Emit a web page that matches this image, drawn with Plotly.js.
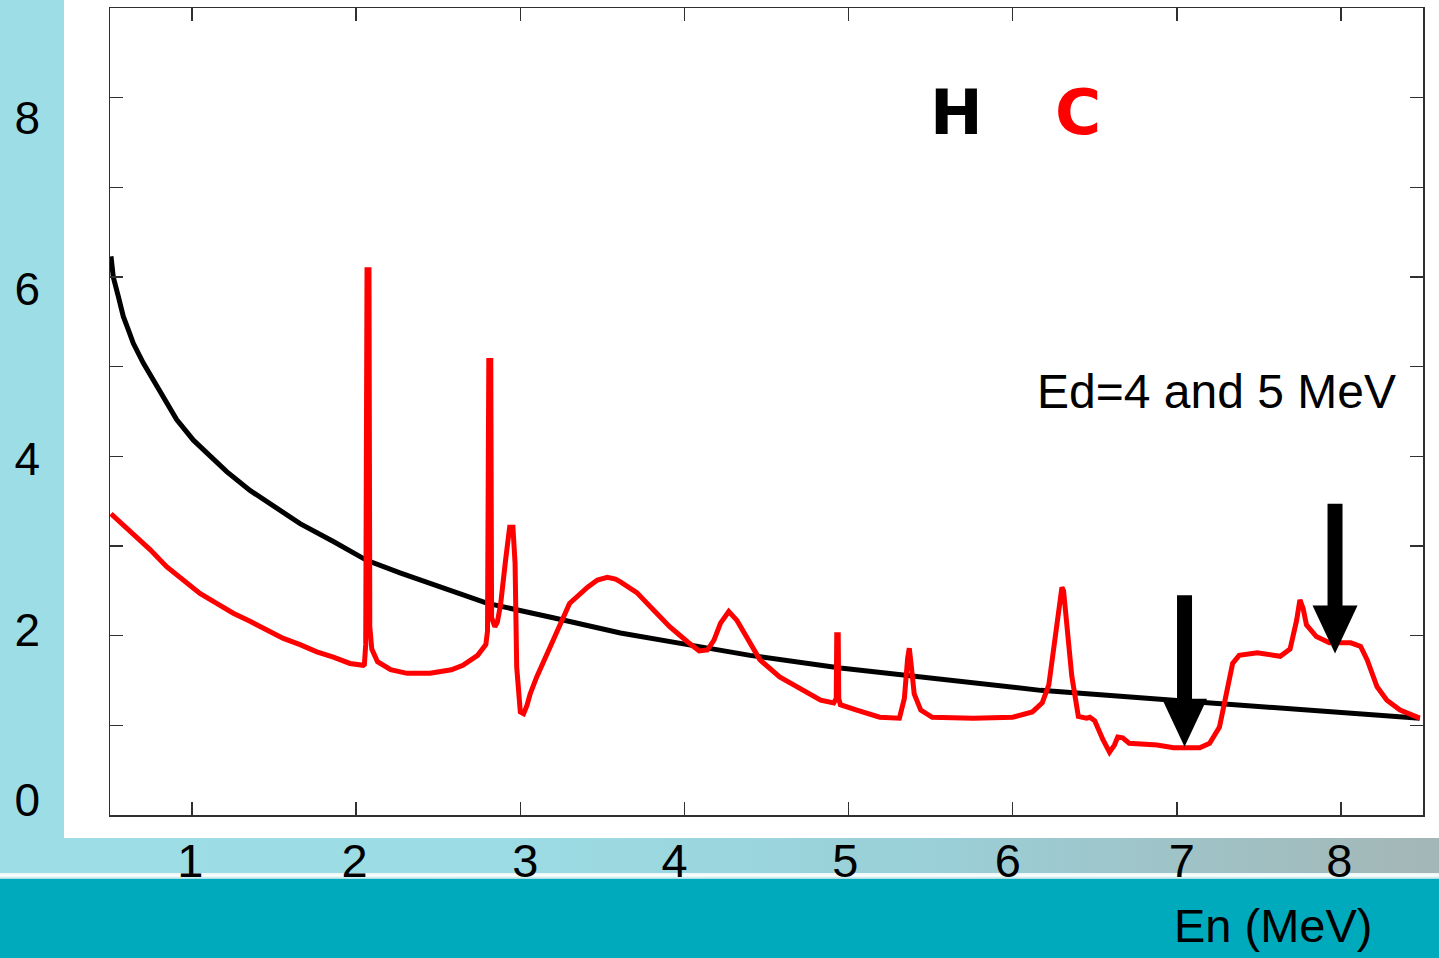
<!DOCTYPE html>
<html>
<head>
<meta charset="utf-8">
<script src="https://cdn.plot.ly/plotly-3.0.1.min.js"></script>
<style>
  html, body { margin:0; padding:0; }
  #stage { position:relative; width:1439px; height:958px; overflow:hidden; background:#9DDEE6; }
  #white { position:absolute; left:64px; top:0; width:1375px; height:838px; background:#ffffff; }
  #strip { position:absolute; left:0; top:838px; width:1439px; height:35px;
           background:linear-gradient(to right, #9DDEE6 0%, #9CDCE4 35%, #9ACFD7 65%, #A4B6B6 100%); }
  #line { position:absolute; left:0; top:873px; width:1439px; height:6px;
          background:linear-gradient(to bottom, #E8F6F8 0%, #ffffff 50%, #9ED9E0 100%); }
  #teal { position:absolute; left:0; top:879px; width:1439px; height:79px; background:#00AABD; }
  #chart { position:absolute; left:0; top:0; width:1439px; height:958px; }
</style>
</head>
<body>
<div id="stage">
  <div id="white"></div>
  <div id="strip"></div>
  <div id="line"></div>
  <div id="teal"></div>
  <div id="chart"></div>
</div>
<script>
// ---- data ----
const hX = [0.506, 0.52, 0.551, 0.581, 0.612, 0.642, 0.703, 0.764, 0.805, 0.866, 0.906, 1.008, 1.109, 1.211, 1.353, 1.495, 1.658, 1.861, 2.064, 2.267,
            2.45, 2.80, 3.20, 3.61, 4.02, 4.40, 4.95, 5.56, 6.17, 6.98, 7.79, 8.48];
const hY = [6.23, 6.00, 5.78, 5.56, 5.41, 5.26, 5.04, 4.85, 4.70, 4.52, 4.41, 4.18, 4.00, 3.83, 3.62, 3.44, 3.25, 3.05, 2.84, 2.70,
            2.58, 2.36, 2.20, 2.03, 1.90, 1.78, 1.64, 1.51, 1.39, 1.28, 1.17, 1.08];

const cX = [0.506, 0.561, 0.642, 0.744, 0.845, 0.947, 1.048, 1.15, 1.251, 1.353, 1.455, 1.556, 1.658, 1.76, 1.861, 1.962, 2.043, 2.05, 2.058, 2.062,
            2.066, 2.078, 2.083, 2.095, 2.13, 2.21, 2.31,
            2.45, 2.51, 2.58, 2.65, 2.74, 2.79, 2.80, 2.808, 2.820, 2.825, 2.845, 2.86, 2.88, 2.91, 2.935, 2.955, 2.968, 2.978, 2.99, 3.00,
            3.02, 3.04, 3.06, 3.10, 3.20, 3.30, 3.41, 3.47, 3.53, 3.58, 3.61, 3.71, 3.81, 3.91, 4.02, 4.09, 4.14, 4.18, 4.22, 4.27,
            4.32, 4.40, 4.46, 4.58, 4.70, 4.83, 4.91, 4.925, 4.928, 4.937, 4.94, 4.95, 5.05, 5.19, 5.31, 5.34, 5.36, 5.37, 5.38, 5.40,
            5.44, 5.51, 5.76, 6.00, 6.12, 6.18, 6.22, 6.25, 6.28, 6.30, 6.31, 6.33, 6.36, 6.40, 6.45, 6.47, 6.50, 6.55, 6.59, 6.62,
            6.64, 6.67, 6.71, 6.88, 6.98, 7.14, 7.20, 7.26, 7.30, 7.34, 7.38, 7.49, 7.63, 7.69, 7.73, 7.75, 7.77, 7.79, 7.85, 7.93,
            8.06, 8.12, 8.16, 8.22, 8.28, 8.36, 8.48];
const cY = [3.36, 3.27, 3.14, 2.96, 2.77, 2.62, 2.47, 2.36, 2.25, 2.16, 2.06, 1.97, 1.90, 1.82, 1.76, 1.69, 1.67, 1.68, 1.90, 4.15,
            6.08, 6.08, 2.10, 1.85, 1.71, 1.62, 1.58,
            1.58, 1.60, 1.62, 1.67, 1.78, 1.90, 2.05, 5.07, 5.07, 2.20, 2.10, 2.15, 2.35, 2.84, 3.21, 3.21, 2.81, 1.65, 1.25, 1.15,
            1.13, 1.22, 1.35, 1.54, 1.95, 2.36, 2.54, 2.62, 2.65, 2.63, 2.60, 2.48, 2.29, 2.10, 1.93, 1.83, 1.84, 1.95, 2.14, 2.27,
            2.17, 1.92, 1.73, 1.54, 1.42, 1.28, 1.25, 1.30, 2.01, 2.01, 1.30, 1.23, 1.17, 1.09, 1.08, 1.30, 1.75, 1.86, 1.70, 1.35,
            1.17, 1.09, 1.08, 1.09, 1.15, 1.25, 1.45, 1.85, 2.35, 2.54, 2.50, 2.06, 1.55, 1.10, 1.08, 1.09, 1.05, 0.84, 0.70, 0.78,
            0.87, 0.86, 0.80, 0.78, 0.75, 0.75, 0.80, 0.98, 1.32, 1.69, 1.78, 1.81, 1.77, 1.85, 2.17, 2.40, 2.30, 2.12, 1.99, 1.92,
            1.92, 1.88, 1.73, 1.43, 1.28, 1.17, 1.08];

const xTickLabels = ['1', '2', '3', '4', '5', '6', '7', '8'];
const xLabelPos   = [0.99, 1.99, 3.03, 3.94, 4.98, 5.97, 7.03, 7.99];
const yTickLabels = ['0', '2', '4', '6', '8'];
const yLabelVals  = [0, 2, 4, 6, 8];

const arrowX     = [7.047, 7.964];
const arrowTipY  = [0.76, 1.80];
const arrowTailY = [2.45, 3.47];

// ---- geometry / style ----
const xRange = [0.5, 8.5], yRange = [0, 9];
const plotW = 1313, plotH = 807;
const pxPerX = plotW / (xRange[1] - xRange[0]);
const pxPerY = plotH / (yRange[1] - yRange[0]);
const shaftW = 15, headW = 45, headL = 48;
const axisCol = '#303030';
const font = 'Liberation Sans, Arial, Helvetica, sans-serif';

const shapes = [];
for (let i = 0; i < arrowX.length; i++) {
  const x = arrowX[i], tip = arrowTipY[i], tail = arrowTailY[i];
  const hw = (headW / 2) / pxPerX, hl = headL / pxPerY;
  shapes.push({type:'line', xref:'x', yref:'y', x0:x, x1:x, y0:tail, y1:tip + hl - 0.02,
               line:{color:'#000', width:shaftW}, layer:'above'});
  shapes.push({type:'path', xref:'x', yref:'y',
               path:`M ${x-hw},${tip+hl} L ${x+hw},${tip+hl} L ${x},${tip} Z`,
               fillcolor:'#000', line:{color:'#000', width:0}, layer:'above'});
}

const traces = [
  {x:hX, y:hY, mode:'lines', line:{color:'#000000', width:5}, hoverinfo:'skip', showlegend:false},
  {x:cX, y:cY, mode:'lines', line:{color:'#FF0000', width:5}, hoverinfo:'skip', showlegend:false}
];

const layout = {
  width:1439, height:958,
  margin:{l:40, r:16, t:8, b:143, pad:0},
  paper_bgcolor:'rgba(0,0,0,0)', plot_bgcolor:'#ffffff',
  showlegend:false, hovermode:false,
  xaxis:{domain:[70/1383, 1], range:xRange, tickvals:[1,2,3,4,5,6,7,8], ticks:'inside', ticklen:13, tickwidth:1.5,
         tickcolor:axisCol, showticklabels:false, showline:true, linecolor:axisCol, linewidth:1.5, mirror:'ticks',
         showgrid:false, zeroline:false, fixedrange:true},
  yaxis:{range:yRange, tickvals:[1,2,3,4,5,6,7,8], ticks:'inside', ticklen:13, tickwidth:1.5,
         tickcolor:axisCol, showticklabels:false, showline:true, linecolor:axisCol, linewidth:1.5, mirror:'ticks',
         showgrid:false, zeroline:false, fixedrange:true},
  xaxis2:{overlaying:'x', anchor:'y', side:'bottom', domain:[70/1383, 1], range:xRange,
          tickvals:xLabelPos, ticktext:xTickLabels, ticks:'outside', ticklen:5, tickcolor:'rgba(0,0,0,0)',
          showline:false, showgrid:false, zeroline:false, tickfont:{family:font, size:47, color:'#000'}},
  yaxis2:{overlaying:'y', anchor:'free', position:0, side:'left', range:[-0.176, 9.29],
          tickvals:yLabelVals, ticktext:yTickLabels, ticks:'', showline:false, showgrid:false, zeroline:false,
          tickfont:{family:font, size:46, color:'#000'}},
  shapes:shapes,
  annotations:[
    {xref:'x', yref:'y', x:5.66, y:7.84, text:'<b>H</b>', showarrow:false, xanchor:'center', yanchor:'middle',
     font:{family:'DejaVu Sans, Arial Black, sans-serif', size:63, color:'#000'}},
    {xref:'x', yref:'y', x:6.40, y:7.84, text:'<b>C</b>', showarrow:false, xanchor:'center', yanchor:'middle',
     font:{family:'DejaVu Sans, Arial Black, sans-serif', size:63, color:'#FF0000'}},
    {xref:'x', yref:'y', x:7.24, y:4.72, text:'Ed=4 and 5 MeV', showarrow:false, xanchor:'center', yanchor:'middle',
     font:{family:font, size:48, color:'#000'}},
    {xref:'paper', yref:'paper', x:(1273-40)/1383, y:-0.1375, text:'En (MeV)', showarrow:false,
     xanchor:'center', yanchor:'middle',
     font:{family:font, size:47, color:'#000'}}
  ]
};

traces.push({x:[xRange[0]], y:[0], xaxis:'x2', yaxis:'y2', mode:'markers', marker:{opacity:0}, hoverinfo:'skip', showlegend:false});

Plotly.newPlot('chart', traces, layout, {displayModeBar:false, staticPlot:true});
</script>
</body>
</html>
